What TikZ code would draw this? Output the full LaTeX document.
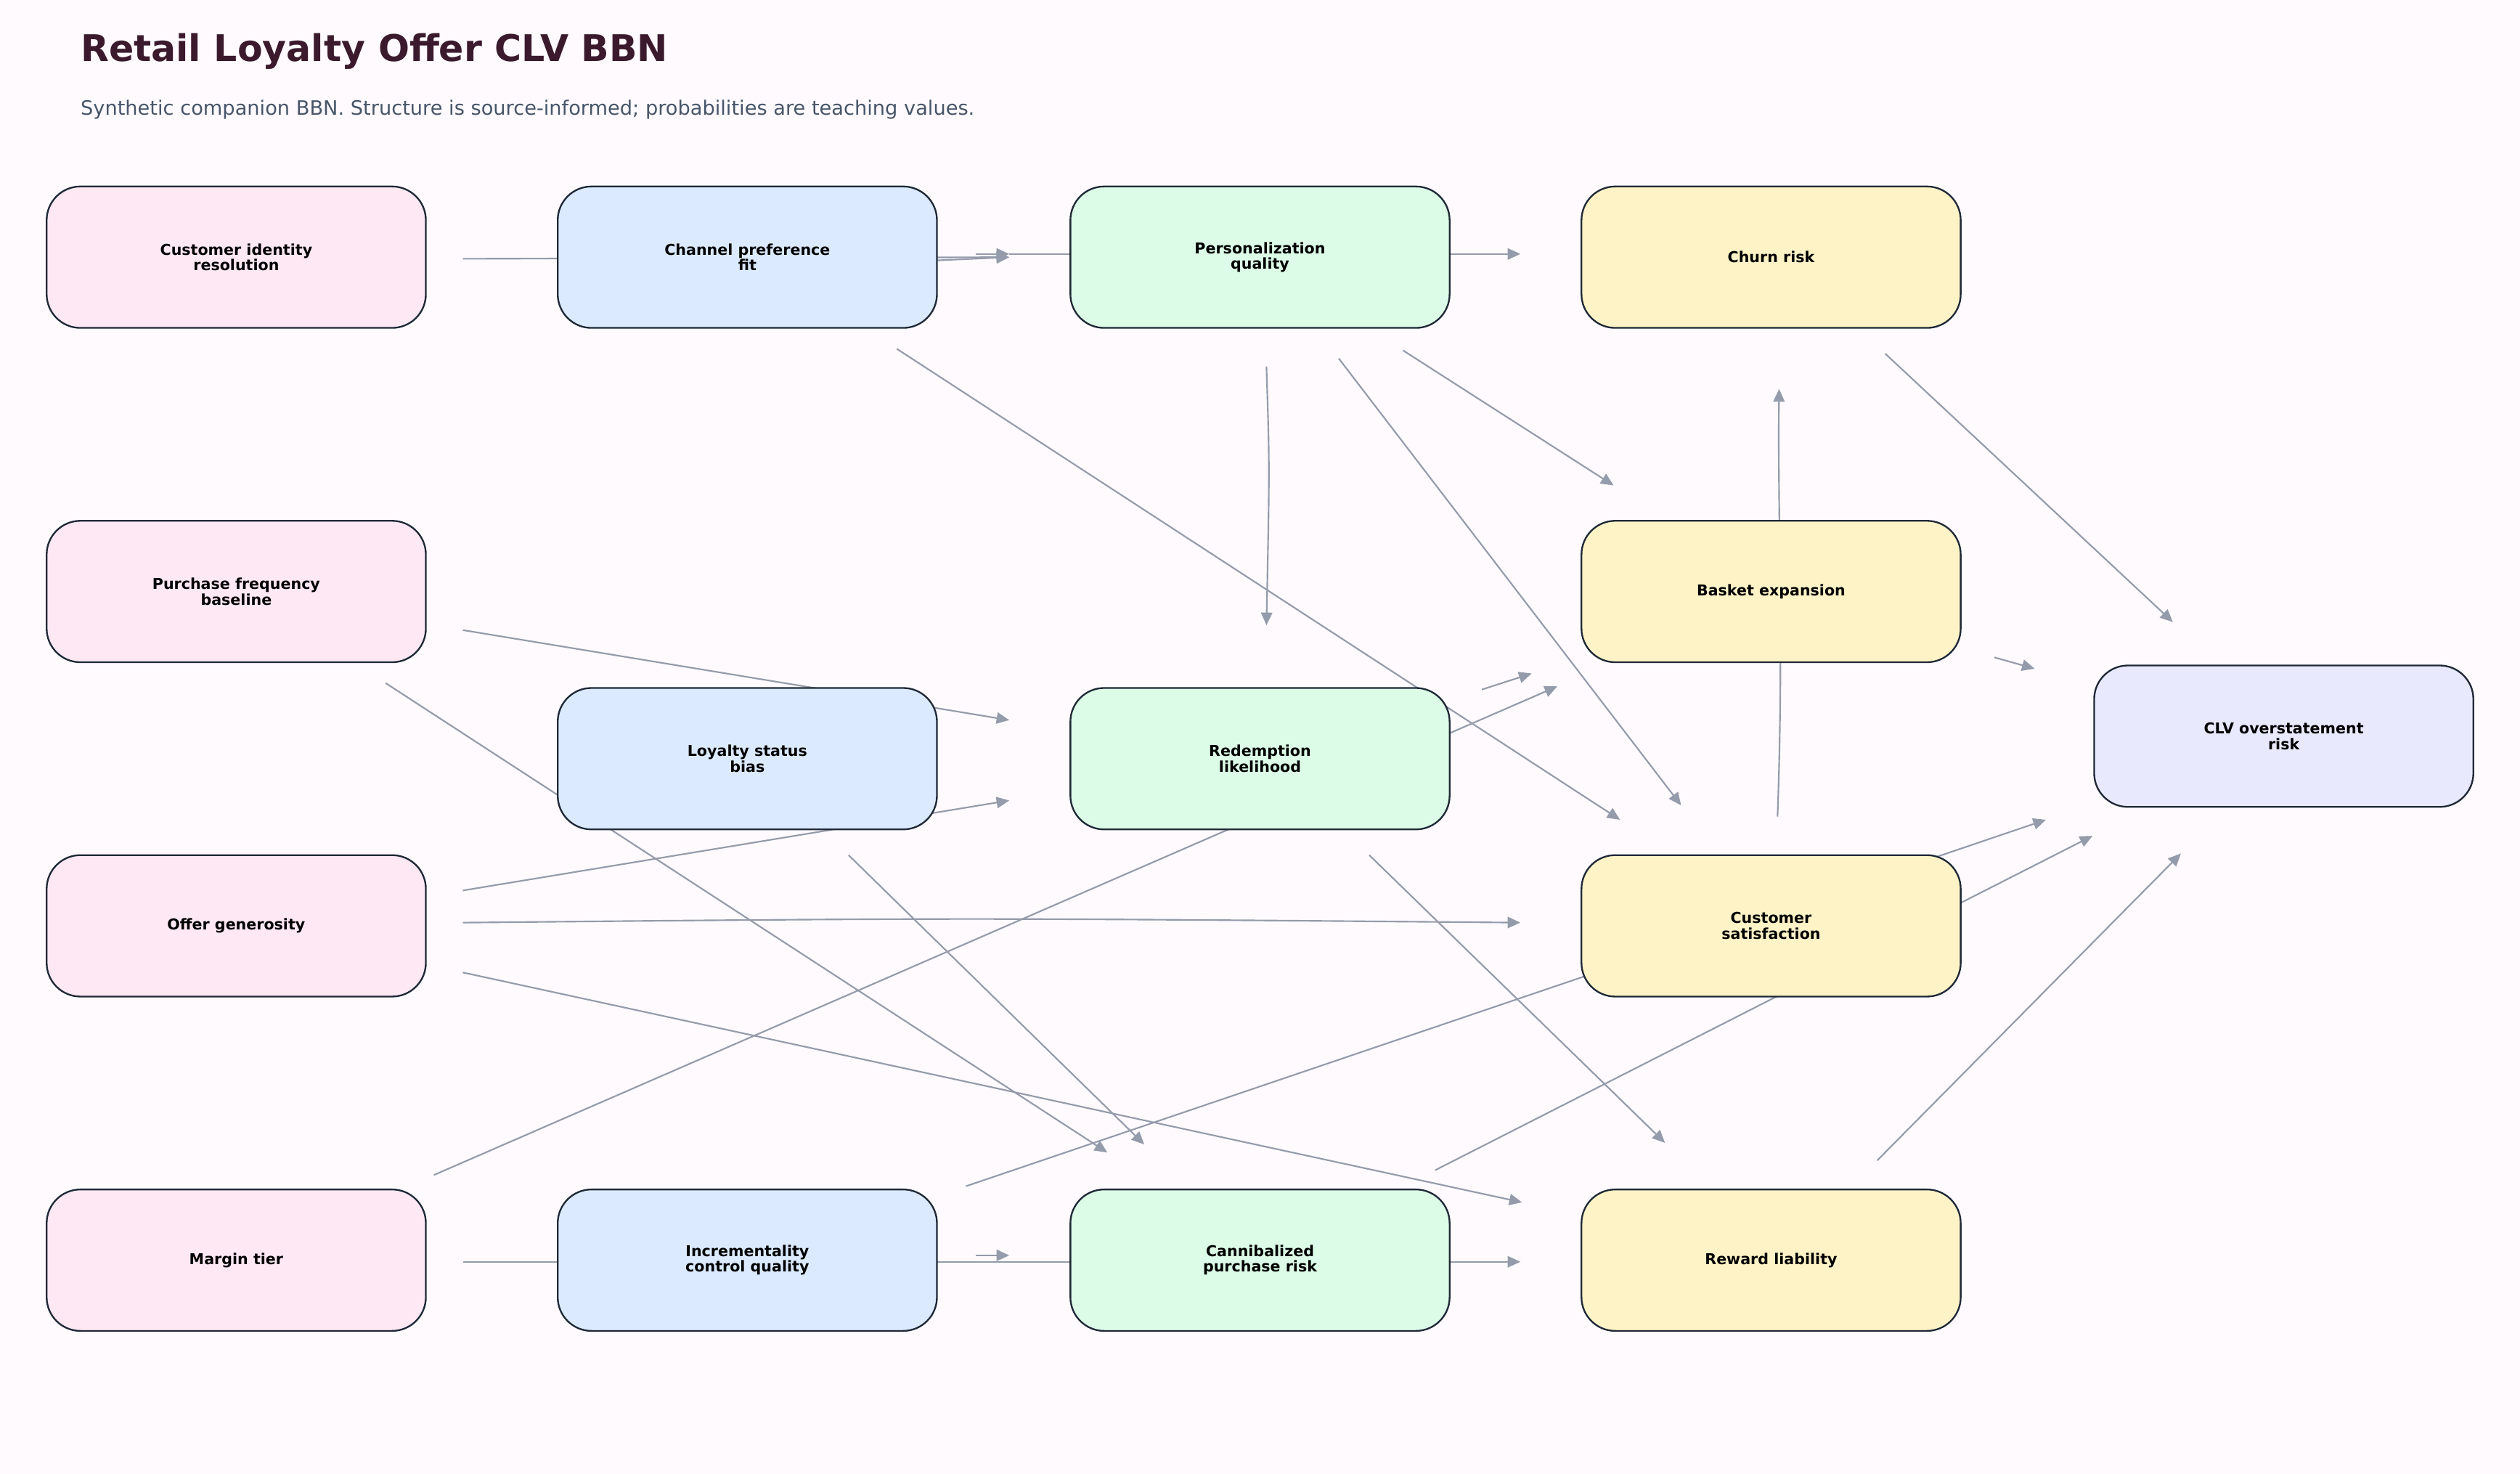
\documentclass[tikz,border=0pt]{standalone}
\usepackage{fontspec}
\setmainfont{DejaVu Sans}
\usetikzlibrary{arrows.meta}
\definecolor{bg}{HTML}{FEFAFE}
\definecolor{pinkf}{HTML}{FDE8F3}
\definecolor{bluef}{HTML}{DBEAFE}
\definecolor{greenf}{HTML}{DCFCE7}
\definecolor{yelf}{HTML}{FEF3C7}
\definecolor{lavf}{HTML}{E9E9FE}
\definecolor{edgec}{HTML}{949BAA}
\definecolor{bord}{HTML}{1F2937}
\definecolor{titc}{HTML}{3B1A2E}
\definecolor{subc}{HTML}{475569}
\begin{document}
\begin{tikzpicture}[x=0.02cm,y=-0.02cm,
  box/.style={draw=bord,line width=0.6pt,rounded corners=0.42cm,minimum width=4.72cm,minimum height=1.76cm,align=center,font=\fontsize{5.3}{5.5}\selectfont\bfseries,text=black},
  e/.style={draw=edgec,line width=0.55pt,-{Triangle[length=4.5pt,width=4pt]}},
  l/.style={draw=edgec,line width=0.55pt}]
\fill[bg] (0,0) rectangle (1568,917);
\useasboundingbox (0,0) rectangle (1568,917);
\node[anchor=west,text=titc,font=\fontsize{13}{15}\selectfont\bfseries] (title) at (44,32) {Retail Loyalty Offer CLV BBN};
\node[anchor=west,text=subc,font=\fontsize{7}{8}\selectfont] (sub) at (44,68) {Synthetic companion BBN. Structure is source-informed; probabilities are teaching values.};
% edges (behind nodes)
\draw[e] (288,161) -- (628,160);
\draw[e] (583,162) -- (628,160);
\draw[e] (607,158) -- (628,158);
\draw[l] (628,158) -- (666,158);
\draw[e] (902,158) -- (946,158);
\draw[e] (558,217) -- (1008,510);
\draw[e] (788,228) .. controls (790,290) .. (788,389);
\draw[e] (833,223) -- (1046,501);
\draw[e] (873,218) -- (1004,302);
\draw[e] (1106,508) .. controls (1110,400) and (1106,320) .. (1107,242);
\draw[e] (1173,220) -- (1352,387);
\draw[e] (1241,409) -- (1266,416);
\draw[e] (288,392) -- (628,448);
\draw[e] (240,425) -- (689,717);
\draw[e] (922,429) -- (953,419);
\draw[e] (270,731) -- (969,427);
\draw[e] (288,554) -- (628,498);
\draw[e] (288,574) .. controls (600,571) .. (946,574);
\draw[e] (288,605) -- (947,748);
\draw[e] (528,532) -- (712,712);
\draw[e] (852,532) -- (1036,711);
\draw[e] (601,738) -- (1273,510);
\draw[e] (893,728) -- (1302,520);
\draw[e] (1168,722) -- (1357,531);
\draw[e] (288,785) -- (946,785);
\draw[e] (607,781) -- (628,781);
% nodes
\node[box,fill=pinkf] (cir) at (147,160) {Customer identity\\resolution};
\node[box,fill=bluef] (cpf) at (465,160) {Channel preference\\fit};
\node[box,fill=greenf] (pq) at (784,160) {Personalization\\quality};
\node[box,fill=yelf] (cr) at (1102,160) {Churn risk};
\node[box,fill=pinkf] (pfb) at (147,368) {Purchase frequency\\baseline};
\node[box,fill=yelf] (be) at (1102,368) {Basket expansion};
\node[box,fill=bluef] (lsb) at (465,472) {Loyalty status\\bias};
\node[box,fill=greenf] (rl) at (784,472) {Redemption\\likelihood};
\node[box,fill=lavf] (clv) at (1421,458) {CLV overstatement\\risk};
\node[box,fill=pinkf] (og) at (147,576) {Offer generosity};
\node[box,fill=yelf] (cs) at (1102,576) {Customer\\satisfaction};
\node[box,fill=pinkf] (mt) at (147,784) {Margin tier};
\node[box,fill=bluef] (icq) at (465,784) {Incrementality\\control quality};
\node[box,fill=greenf] (cpr) at (784,784) {Cannibalized\\purchase risk};
\node[box,fill=yelf] (rwl) at (1102,784) {Reward liability};
\end{tikzpicture}
\end{document}
